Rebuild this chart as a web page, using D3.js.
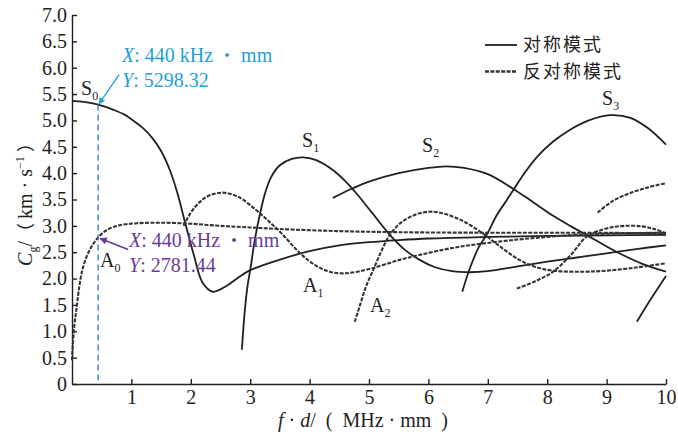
<!DOCTYPE html>
<html>
<head>
<meta charset="utf-8">
<script src="https://cdn.jsdelivr.net/npm/d3@7"></script>
<style>
  body { margin: 0; background: #fff; }
  text { font-family: "Liberation Serif", "Times New Roman", serif; fill: #231f20; }
  .cjk { font-family: "Noto Sans CJK SC", sans-serif; }
  .axis path, .axis line { stroke: #231f20; stroke-width: 1.4; }
  .axis text { font-size: 20px; }
</style>
</head>
<body>
<div id="chart"></div>
<script>
// symmetric modes (solid) – [f·d, Cg]
const S0 = [[0,5.37],[0.2,5.35],[0.44,5.30],[0.7,5.2],[0.9,5.1],[1.05,4.98],[1.2,4.85],[1.35,4.67],[1.5,4.42],[1.65,4.05],[1.78,3.6],[1.9,3.08],[2.05,2.45],[2.2,1.92],[2.37,1.75],[2.6,1.86],[2.8,2.02],[3.0,2.16],[3.5,2.36],[4.0,2.52],[4.5,2.63],[5.0,2.69],[5.5,2.73],[6.0,2.76],[7.0,2.79],[8.0,2.81],[9.0,2.82],[10,2.83]];
const S1 = [[2.86,0.65],[2.91,1.4],[2.96,1.9],[3.0,2.16],[3.08,2.75],[3.16,3.2],[3.25,3.62],[3.35,3.92],[3.5,4.15],[3.7,4.27],[3.89,4.30],[4.1,4.25],[4.39,4.06],[4.6,3.85],[4.8,3.6],[5.05,3.25],[5.35,2.83],[5.6,2.55],[5.86,2.35],[6.1,2.22],[6.4,2.14],[6.7,2.12],[7.0,2.14],[7.5,2.23],[8.0,2.32],[8.5,2.40],[9.0,2.48],[9.5,2.56],[10,2.63]];
const S2 = [[4.39,3.53],[4.7,3.70],[5.0,3.84],[5.5,4.0],[6.0,4.1],[6.3,4.13],[6.6,4.1],[7.0,3.98],[7.43,3.70],[7.71,3.49],[8.1,3.19],[8.4,2.99],[8.67,2.82],[9.0,2.61],[9.23,2.47],[9.6,2.28],[10,2.13]];
const S3 = [[6.57,1.75],[6.7,2.2],[6.85,2.6],[6.99,2.85],[7.15,3.2],[7.32,3.49],[7.43,3.68],[7.63,4.02],[7.83,4.31],[8.1,4.6],[8.38,4.82],[8.7,5.0],[9.06,5.10],[9.4,5.05],[9.7,4.85],[10,4.54]];
const S4 = [[9.51,1.18],[9.75,1.62],[10,2.05]];

// antisymmetric modes (dashed)
const A0 = [[0,0.45],[0.03,1.0],[0.08,1.47],[0.13,1.9],[0.19,2.23],[0.3,2.55],[0.44,2.78],[0.6,2.93],[0.8,3.01],[1.1,3.05],[1.5,3.06],[2.0,3.04],[2.5,3.0],[3.0,2.97],[3.5,2.94],[4.5,2.90],[5.5,2.88],[7,2.87],[8.5,2.87],[10,2.86]];
const A1 = [[1.88,3.0],[2.0,3.25],[2.15,3.45],[2.3,3.57],[2.54,3.63],[2.8,3.55],[3.1,3.3],[3.3,3.1],[3.5,2.89],[3.84,2.48],[4.1,2.25],[4.34,2.13],[4.6,2.10],[5.0,2.18],[5.5,2.35],[5.86,2.45],[6.4,2.58],[6.95,2.67],[7.5,2.74],[8.0,2.79],[8.5,2.83],[9.3,2.86],[10,2.87]];
const A2 = [[4.76,1.18],[4.85,1.5],[4.95,1.85],[5.07,2.16],[5.2,2.5],[5.35,2.83],[5.55,3.07],[5.8,3.22],[6.05,3.27],[6.3,3.22],[6.6,3.08],[6.95,2.83],[7.25,2.57],[7.54,2.35],[7.8,2.22],[8.1,2.15],[8.6,2.13],[9.0,2.15],[9.5,2.21],[10,2.29]];
const A3 = [[7.49,1.81],[7.8,1.95],[8.1,2.13],[8.4,2.45],[8.67,2.80],[9.0,2.95],[9.3,3.0],[9.6,2.99],[9.8,2.94],[10,2.86]];
const A4 = [[8.85,3.25],[9.1,3.47],[9.39,3.62],[9.7,3.73],[10,3.81]];

const yTicks = [0,0.5,1,1.5,2,2.5,3,3.5,4,4.5,5,5.5,6,6.5,7];
const xTicks = [1,2,3,4,5,6,7,8,9,10];

// marked point
const markX = 0.44, markS0 = 5.30, markA0 = 2.78;

const W = 678, H = 435;
const margin = { top: 15, right: 12, bottom: 51, left: 72 };

const svg = d3.select("#chart").append("svg").attr("width", W).attr("height", H);
const chart = svg.append("g").attr("transform", `translate(${margin.left},${margin.top})`);
const width = W - margin.left - margin.right;
const height = H - margin.top - margin.bottom;

const x = d3.scaleLinear().domain([0, 10]).range([0, width]);
const y = d3.scaleLinear().domain([0, 7]).range([height, 0]);

// axes, ticks inside
chart.append("g").attr("class", "axis")
  .call(d3.axisLeft(y).tickValues(yTicks).tickSize(-5).tickSizeOuter(0).tickPadding(5)
    .tickFormat(d => d === 0 ? "0" : d3.format(".1f")(d)));
chart.append("g").attr("class", "axis").attr("transform", `translate(0,${height})`)
  .call(d3.axisBottom(x).tickValues(xTicks).tickSize(-5).tickSizeOuter(0).tickPadding(6));

const line = d3.line().x(d => x(d[0])).y(d => y(d[1])).curve(d3.curveCatmullRom.alpha(0.5));

chart.selectAll(".sym").data([S0, S1, S2, S3, S4]).join("path")
  .attr("class", "sym").attr("d", line)
  .attr("fill", "none").attr("stroke", "#231f20").attr("stroke-width", 1.8);

chart.selectAll(".anti").data([A0, A1, A2, A3, A4]).join("path")
  .attr("class", "anti").attr("d", line)
  .attr("fill", "none").attr("stroke", "#363333").attr("stroke-width", 2.1)
  .attr("stroke-dasharray", "4,1.4");

// marker line at 440 kHz·mm
chart.append("line")
  .attr("x1", x(markX)).attr("x2", x(markX)).attr("y1", y(markS0)).attr("y2", y(0))
  .attr("stroke", "#3d7fcf").attr("stroke-width", 1.4).attr("stroke-dasharray", "6,4");

// arrow heads
const defs = svg.append("defs");
function arrowMarker(id, color) {
  defs.append("marker").attr("id", id).attr("viewBox", "0 0 10 10")
    .attr("refX", 9).attr("refY", 5).attr("markerWidth", 5).attr("markerHeight", 5)
    .attr("orient", "auto-start-reverse")
    .append("path").attr("d", "M0,0L10,5L0,10z").attr("fill", color);
}
const blue = "#1e9fd8", purple = "#6a3a98";
arrowMarker("arrB", blue);
arrowMarker("arrP", purple);

chart.append("line")
  .attr("x1", x(markX) + 21).attr("y1", y(markS0) - 30)
  .attr("x2", x(markX) + 1).attr("y2", y(markS0) - 1)
  .attr("stroke", blue).attr("stroke-width", 1.3).attr("marker-end", "url(#arrB)");
chart.append("line")
  .attr("x1", x(markX) + 30).attr("y1", y(markA0) + 12)
  .attr("x2", x(markX) + 2).attr("y2", y(markA0) + 1)
  .attr("stroke", purple).attr("stroke-width", 1.5).attr("marker-end", "url(#arrP)");

function readout(px, py, color, xv, yv) {
  const t1 = chart.append("text").attr("x", px).attr("y", py).attr("font-size", 20).style("fill", color);
  t1.append("tspan").attr("font-style", "italic").text("X");
  t1.append("tspan").text(": " + xv + " kHz ");
  t1.append("tspan").attr("class", "cjk").attr("font-size", 18).text("・");
  t1.append("tspan").text(" mm");
  const t2 = chart.append("text").attr("x", px).attr("y", py + 25).attr("font-size", 20).style("fill", color);
  t2.append("tspan").attr("font-style", "italic").text("Y");
  t2.append("tspan").text(": " + yv);
}
readout(50, 47, blue, 440, "5298.32");
readout(57, 232, purple, 440, "2781.44");

// mode labels
function modeLabel(px, py, main, sub) {
  const t = chart.append("text").attr("x", px).attr("y", py).attr("font-size", 20);
  t.append("tspan").text(main);
  t.append("tspan").attr("font-size", 12).attr("dy", 5).text(sub);
}
modeLabel(9, 80, "S", "0");
modeLabel(28, 252, "A", "0");
modeLabel(230, 132, "S", "1");
modeLabel(350, 137, "S", "2");
modeLabel(530, 90, "S", "3");
modeLabel(231, 277, "A", "1");
modeLabel(298, 297, "A", "2");

// legend
const legend = chart.append("g").attr("transform", `translate(${413},${30})`);
legend.append("line").attr("x1", 0).attr("x2", 32).attr("y1", 0).attr("y2", 0)
  .attr("stroke", "#231f20").attr("stroke-width", 1.8);
legend.append("text").attr("class", "cjk").attr("x", 38).attr("y", 6).attr("font-size", 18)
  .attr("letter-spacing", 2).text("对称模式");
legend.append("line").attr("x1", 0).attr("x2", 32).attr("y1", 26.5).attr("y2", 26.5)
  .attr("stroke", "#363333").attr("stroke-width", 2.3).attr("stroke-dasharray", "4,1.4");
legend.append("text").attr("class", "cjk").attr("x", 38).attr("y", 33).attr("font-size", 18)
  .attr("letter-spacing", 2).text("反对称模式");

// axis titles
const xt = svg.append("text").attr("x", 278).attr("y", 427).attr("font-size", 20)
  .attr("xml:space", "preserve").style("white-space", "pre");
xt.append("tspan").attr("font-style", "italic").text("f");
xt.append("tspan").text(" · ");
xt.append("tspan").attr("font-style", "italic").text("d");
xt.append("tspan").text("/  (  MHz · mm  )");

const yt = svg.append("text").attr("transform", "translate(32,200) rotate(-90)")
  .attr("text-anchor", "middle").attr("font-size", 20);
yt.append("tspan").attr("font-style", "italic").text("C");
yt.append("tspan").attr("font-size", 12).attr("dy", 5).text("g");
yt.append("tspan").attr("dy", -5).text("/");
yt.append("tspan").attr("class", "cjk").attr("font-size", 18).text("（ ");
yt.append("tspan").text("km · s");
yt.append("tspan").attr("font-size", 12).attr("dy", -8).text("−1");
yt.append("tspan").attr("class", "cjk").attr("font-size", 18).attr("dy", 8).text(" ）");
</script>
</body>
</html>
